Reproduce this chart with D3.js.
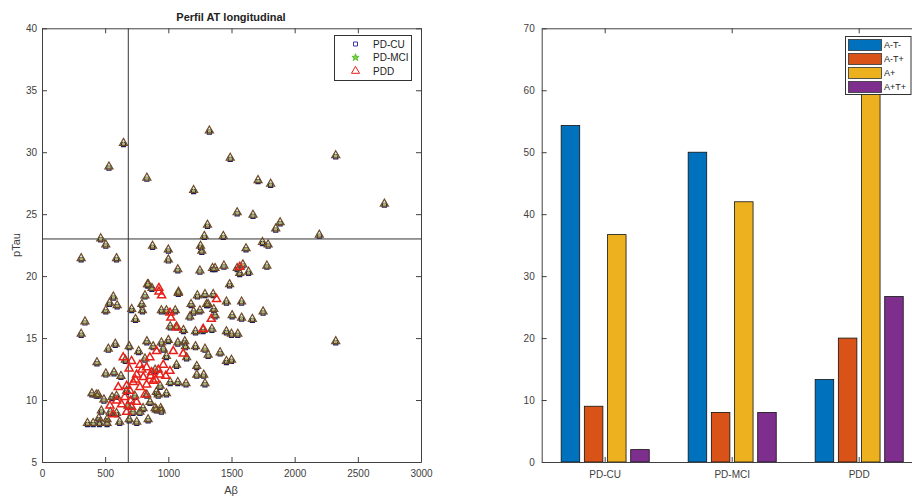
<!DOCTYPE html>
<html>
<head>
<meta charset="utf-8">
<script src="https://cdn.jsdelivr.net/npm/d3@7"></script>
<style>
  body { margin: 0; background: #fff; }
  svg { display: block; font-family: "Liberation Sans", Arial, sans-serif; }
</style>
</head>
<body>
<div id="chart"></div>
<script>
// --- scatter data: [Abeta, pTau] ---
// subjects that show up in all three groups (square + star + triangle)
const sharedSubjects = [
  [1325,31.7],[645,30.7],[530,28.8],[1490,29.5],[2325,29.7],[830,27.9],[1200,26.9],[1710,27.7],[1810,27.4],[2710,25.8],
  [1545,25.1],[1670,24.9],[1885,24.3],[1850,23.8],[1310,24.1],[1285,23.2],[1435,23.2],[2195,23.3],[465,23.0],[505,22.5],
  [875,22.4],[1255,22.4],[1745,22.7],[1790,22.5],[1615,22.2],[1000,22.1],[310,21.4],[590,21.4],[1265,22.0],[1000,21.3],
  [1075,20.5],[1250,20.4],[1350,20.6],[1370,20.6],[1440,20.8],[1545,20.6],[1590,20.9],[1565,20.2],[1635,20.3],[1780,20.8],
  [1485,19.3],[835,19.3],[870,19.0],[1080,18.7],[1230,18.4],[1290,18.5],[1355,18.5],[1460,17.9],[1580,17.9],[1750,17.1],
  [1665,16.5],[1580,16.6],[1505,16.8],[565,18.3],[535,17.8],[595,17.6],[505,17.2],[710,17.3],[790,17.7],[795,17.2],
  [815,18.4],[740,16.5],[340,16.3],[310,15.3],[945,17.2],[985,17.2],[1055,17.2],[1180,17.7],[1200,17.1],[1170,16.7],
  [1250,17.2],[1315,17.7],[1360,17.3],[1370,16.8],[1015,15.9],[1065,15.9],[1120,15.6],[1215,15.5],[1275,15.6],[1345,15.7],
  [1460,15.5],[1500,15.3],[1550,15.3],[2325,14.7],[580,14.5],[525,14.1],[690,14.3],[765,13.9],[830,14.7],[880,14.3],
  [960,14.1],[1000,14.8],[1075,14.6],[1135,14.3],[1215,14.3],[1290,14.1],[1315,13.6],[1410,13.8],[1460,13.1],[1500,13.2],
  [435,13.0],[660,13.2],[1225,12.7],[505,12.1],[570,12.2],[625,11.9],[1225,12.0],[1280,12.0],[1290,11.3],[1075,11.4],
  [1140,11.3],[985,10.5],[905,10.6],[830,10.4],[395,10.5],[430,10.4],[490,10.0],[555,10.2],[470,9.1],[540,9.0],
  [590,8.9],[450,8.5],[515,8.4],[360,8.1],[405,8.1],[455,8.1],[515,8.1],[615,8.2],[690,8.4],[750,8.2],
  [840,8.4],[940,9.3],[895,9.3],[720,9.0],[800,9.3],[680,9.5],[945,14.6],[1130,14.7],[445,10.4],[590,10.3],
  [670,10.7],[735,10.3],[935,11.1],[1015,11.4],[920,10.4],[855,9.8],[905,9.2],[945,9.1],[775,9.0],[1065,12.8],
  [985,13.5],[1145,13.4],[895,12.4],[815,13.3],[841,19.3],[1079,18.6],[1303,17.7]
];
// extra PDD-only subjects (red triangles in the dense cluster)
const pddOnly = [
  [643,13.4],[709,13.1],[775,12.8],[828,12.6],[749,12.0],[802,11.8],[868,12.2],[933,12.0],[960,12.8],[670,11.1],
  [696,10.7],[630,9.6],[709,9.4],[670,9.0],[591,9.9],[538,9.5],[564,8.8],[722,11.4],[828,11.2],[881,11.5],
  [920,12.4],[1013,12.3],[775,11.0],[815,10.4],[749,9.8],[604,11.0],[854,13.4],[907,13.9],[1039,13.9],[1118,13.7],
  [1276,15.7],[1065,15.8],[925,19.0],[947,18.4],[1382,18.1],[1020,16.6],[1340,16.5],[926,18.7],[1566,20.7],[1013,17.0],
  [690,12.5],[740,11.6],[860,11.9],[655,10.2],[700,9.9],[790,12.4],[900,11.6],[980,11.9]
];
const vertCut = 683;   // Abeta cut-off
const horizCut = 23;   // pTau cut-off
const xTicks = [0, 500, 1000, 1500, 2000, 2500, 3000];
const yTicks = [5, 10, 15, 20, 25, 30, 35, 40];

// --- bar data: percentage per AT profile ---
const groups = ["PD-CU", "PD-MCI", "PDD"];
const profiles = ["A-T-", "A-T+", "A+", "A+T+"];
const aNegTNeg = [54.3, 50, 13.3];
const aNegTPos = [9, 8, 20];
const aPos = [36.7, 42, 66.7];
const aPosTPos = [2, 8, 26.7];
const barTicks = [0, 10, 20, 30, 40, 50, 60, 70];

const profileColor = d3.scaleOrdinal(profiles, ["#0072BD", "#D95319", "#EDB120", "#7E2F8E"]);
const axisColor = "#404040";

const svg = d3.select("#chart").append("svg")
  .attr("width", 912)
  .attr("height", 497);

function styleAxis(g) {
  g.selectAll("path, line").attr("stroke", axisColor);
  g.selectAll("text").attr("fill", axisColor).style("font-size", "10px");
}

// ================= scatter =================
const x = d3.scaleLinear([0, 3000], [42, 421]);
const y = d3.scaleLinear([5, 40], [462, 28.3]);

let sc = svg.append("g");

sc.append("g")
  .attr("transform", "translate(0," + y(5) + ")")
  .call(d3.axisBottom(x).tickValues(xTicks).tickFormat(d3.format("d")).tickSizeInner(-5).tickSizeOuter(0).tickPadding(8))
  .call(styleAxis);
sc.append("g")
  .attr("transform", "translate(0," + y(40) + ")")
  .call(d3.axisTop(x).tickValues(xTicks).tickFormat("").tickSizeInner(-5).tickSizeOuter(0))
  .call(styleAxis);
sc.append("g")
  .attr("transform", "translate(" + x(0) + ",0)")
  .call(d3.axisLeft(y).tickValues(yTicks).tickSizeInner(-5).tickSizeOuter(0).tickPadding(5))
  .call(styleAxis);
sc.append("g")
  .attr("transform", "translate(" + x(3000) + ",0)")
  .call(d3.axisRight(y).tickValues(yTicks).tickFormat("").tickSizeInner(-5).tickSizeOuter(0))
  .call(styleAxis);

// cut-off lines
sc.append("line")
  .attr("x1", x(vertCut)).attr("x2", x(vertCut))
  .attr("y1", y(5)).attr("y2", y(40))
  .attr("stroke", "#333").attr("stroke-width", 1);
sc.append("line")
  .attr("x1", x(0)).attr("x2", x(3000))
  .attr("y1", y(horizCut)).attr("y2", y(horizCut))
  .attr("stroke", "#333").attr("stroke-width", 1);

const squareSym = d3.symbol(d3.symbolSquare, 16);
const starSym = d3.symbol(d3.symbolStar, 9);
const triSym = d3.symbol(d3.symbolTriangle, 28);

// PD-CU squares, PD-MCI stars, PDD triangles (drawn in that order, like the plot calls)
sc.append("g").selectAll("path")
  .data(sharedSubjects)
  .join("path")
  .attr("d", squareSym)
  .attr("transform", (d) => "translate(" + x(d[0]) + "," + (y(d[1]) + 1) + ")")
  .attr("fill", "none").attr("stroke", "#1e1e5a").attr("stroke-width", 1.2);

sc.append("g").selectAll("path")
  .data(sharedSubjects)
  .join("path")
  .attr("d", starSym)
  .attr("transform", (d) => "translate(" + x(d[0]) + "," + y(d[1]) + ")")
  .attr("fill", "#a8b860").attr("stroke", "none");

sc.append("g").selectAll("path")
  .data(sharedSubjects.concat(pddOnly))
  .join("path")
  .attr("d", triSym)
  .attr("transform", (d) => "translate(" + x(d[0]) + "," + (y(d[1]) - 0.5) + ")")
  .attr("fill", "none")
  .attr("stroke", (d, i) => i < sharedSubjects.length ? "#6e4a26" : "#e8201a")
  .attr("stroke-width", (d, i) => i < sharedSubjects.length ? 1.2 : 1.5);

// title and labels
svg.append("text")
  .attr("x", 231).attr("y", 21)
  .attr("text-anchor", "middle")
  .style("font-size", "11px").style("font-weight", "bold")
  .attr("fill", "#222")
  .text("Perfil AT longitudinal");
svg.append("text")
  .attr("transform", "translate(20,245) rotate(-90)")
  .attr("text-anchor", "middle")
  .style("font-size", "11px")
  .attr("fill", axisColor)
  .text("pTau");
svg.append("text")
  .attr("x", 231).attr("y", 494)
  .attr("text-anchor", "middle")
  .style("font-size", "11px")
  .attr("fill", axisColor)
  .text("Aβ");

// scatter legend
let leg = svg.append("g");
leg.append("rect")
  .attr("x", 334.5).attr("y", 35.5).attr("width", 77).attr("height", 45)
  .attr("fill", "#fff").attr("stroke", "#333");
const legendSyms = [
  { name: "PD-CU", sym: d3.symbol(d3.symbolSquare, 16), fill: "none", stroke: "#3a3a9a" },
  { name: "PD-MCI", sym: d3.symbol(d3.symbolStar, 16), fill: "#7dd04a", stroke: "#5ac030" },
  { name: "PDD", sym: triSym, fill: "none", stroke: "#e8201a" }
];
legendSyms.forEach(function(s, i) {
  let ry = 44 + i * 13.5;
  leg.append("path")
    .attr("d", s.sym)
    .attr("transform", "translate(355.5," + ry + ")")
    .attr("fill", s.fill).attr("stroke", s.stroke).attr("stroke-width", 1);
  leg.append("text")
    .attr("x", 373).attr("y", ry).attr("dy", "0.35em")
    .style("font-size", "10px")
    .attr("fill", "#222")
    .text(s.name);
});

// ================= bars =================
const xb = d3.scaleBand(groups, [541.7, 922.7]).paddingInner(0.27).paddingOuter(0.135);
const xs = d3.scaleBand(profiles, [0, xb.bandwidth()]).paddingInner(0.2).paddingOuter(0.1);
const yb = d3.scaleLinear([0, 70], [462, 28.3]);

const barSeries = [aNegTNeg, aNegTPos, aPos, aPosTPos];
const barRows = [];
groups.forEach(function(g, gi) {
  profiles.forEach(function(p, pi) {
    barRows.push({ group: g, profile: p, value: barSeries[pi][gi] });
  });
});

let bc = svg.append("g");

bc.append("g").selectAll("rect")
  .data(barRows)
  .join("rect")
  .attr("x", (d) => xb(d.group) + xs(d.profile))
  .attr("width", xs.bandwidth())
  .attr("y", (d) => yb(d.value))
  .attr("height", (d) => yb(0) - yb(d.value))
  .attr("fill", (d) => profileColor(d.profile))
  .attr("stroke", "#111").attr("stroke-width", 0.8);

bc.append("g")
  .attr("transform", "translate(0," + yb(0) + ")")
  .call(d3.axisBottom(xb).tickSizeInner(-5).tickSizeOuter(0).tickPadding(9))
  .call(styleAxis);
bc.append("g")
  .attr("transform", "translate(0," + yb(70) + ")")
  .call(d3.axisTop(xb).tickFormat("").tickSizeInner(-5).tickSizeOuter(0))
  .call(styleAxis);
bc.append("g")
  .attr("transform", "translate(541.7,0)")
  .call(d3.axisLeft(yb).tickValues(barTicks).tickSizeInner(-5).tickSizeOuter(0).tickPadding(7))
  .call(styleAxis);
bc.append("g")
  .attr("transform", "translate(922.7,0)")
  .call(d3.axisRight(yb).tickValues(barTicks).tickFormat("").tickSizeInner(-5).tickSizeOuter(0))
  .call(styleAxis);

// bar legend
let bleg = svg.append("g");
bleg.append("rect")
  .attr("x", 845.5).attr("y", 36.5).attr("width", 65.5).attr("height", 58)
  .attr("fill", "#fff").attr("stroke", "#333");
profiles.forEach(function(p, i) {
  let ry = 39.5 + i * 14;
  bleg.append("rect")
    .attr("x", 848.5).attr("y", ry).attr("width", 33).attr("height", 11)
    .attr("fill", profileColor(p)).attr("stroke", "#333").attr("stroke-width", 0.8);
  bleg.append("text")
    .attr("x", 884).attr("y", ry + 5.5).attr("dy", "0.35em")
    .style("font-size", "9px")
    .attr("fill", "#222")
    .text(p);
});
</script>
</body>
</html>
